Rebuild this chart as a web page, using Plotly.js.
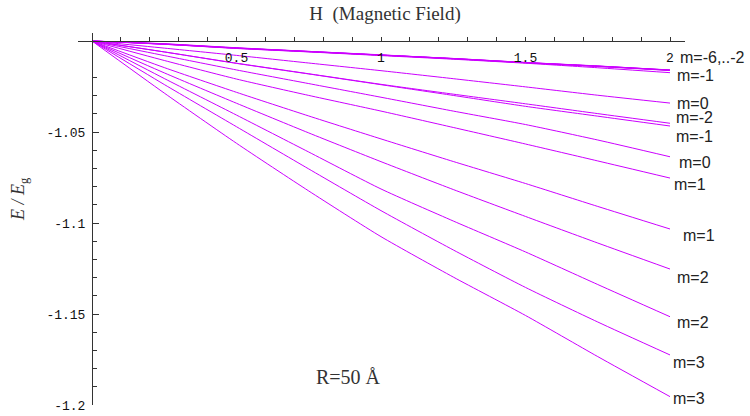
<!DOCTYPE html>
<html>
<head>
<meta charset="utf-8">
<script src="https://cdn.plot.ly/plotly-3.0.1.min.js"></script>
<style>html,body{margin:0;padding:0;background:#fff;}#chart{width:750px;height:416px;}</style>
</head>
<body>
<div id="chart"></div>
<script>
// Magnetic field values (x)
const H = [0, 0.25, 0.5, 0.75, 1, 1.25, 1.5, 1.75, 2];

// Energy levels E/Eg
const e_m6 = [-1, -1.0015, -1.0037, -1.0057, -1.0076, -1.0097, -1.0119, -1.0138, -1.0159];
const e_m5 = [-1, -1.0016, -1.0038, -1.0058, -1.0077, -1.0096, -1.0118, -1.0137, -1.0160];
const e_m4 = [-1, -1.0017, -1.0039, -1.0058, -1.0078, -1.0096, -1.0118, -1.0138, -1.0160];
const e_m3 = [-1, -1.0017, -1.0039, -1.0057, -1.0077, -1.0097, -1.0119, -1.0139, -1.0161];
const e_m2a = [-1, -1.0018, -1.0040, -1.0059, -1.0078, -1.0098, -1.0120, -1.0140, -1.0162];
const e_m1a = [-1, -1.0018, -1.0041, -1.0060, -1.0080, -1.0100, -1.0122, -1.0147, -1.0174];
const e_0a = [-1, -1.0039, -1.0079, -1.0121, -1.0163, -1.0207, -1.0252, -1.0298, -1.0341];
const e_m2b = [-1, -1.0060, -1.0122, -1.0180, -1.0238, -1.0292, -1.0345, -1.0399, -1.0452];
const e_m1b = [-1, -1.0060, -1.0123, -1.0181, -1.0240, -1.0299, -1.0359, -1.0413, -1.0467];
const e_0b = [-1, -1.0080, -1.0159, -1.0234, -1.0309, -1.0385, -1.0459, -1.0544, -1.0636];
const e_1a = [-1, -1.0107, -1.0209, -1.0299, -1.0385, -1.0475, -1.0566, -1.0659, -1.0753];
const e_1b = [-1, -1.0146, -1.0282, -1.0412, -1.0538, -1.0662, -1.0783, -1.0909, -1.1033];
const e_2a = [-1, -1.0175, -1.0342, -1.0505, -1.0663, -1.0816, -1.0964, -1.1110, -1.1253];
const e_2b = [-1, -1.0206, -1.0407, -1.0610, -1.0813, -1.0989, -1.1159, -1.1338, -1.1515];
const e_3a = [-1, -1.0239, -1.0471, -1.0703, -1.0932, -1.1148, -1.1354, -1.1544, -1.1725];
const e_3b = [-1, -1.0286, -1.0562, -1.0824, -1.1075, -1.1297, -1.1508, -1.1734, -1.1954];

// Tick labels
const xTickVals = [0.5, 1, 1.5, 2];
const xTickText = ["0.5", "1", "1.5", "2"];
const yTickVals = [-1.2, -1.15, -1.1, -1.05];
const yTickText = ["-1.2", "-1.15", "-1.1", "-1.05"];

// Level labels (right side)
const levelLabels = ["m=-6,..-2", "m=-1", "m=0", "m=-2", "m=-1", "m=0", "m=1", "m=1", "m=2", "m=2", "m=3", "m=3"];

const series = [e_m6, e_m5, e_m4, e_m3, e_m2a, e_m1a, e_0a, e_m2b, e_m1b, e_0b, e_1a, e_1b, e_2a, e_2b, e_3a, e_3b];
const lineColor = 'rgb(204,0,255)';
const traces = series.map(ys => ({
  x: H, y: ys, type: 'scatter', mode: 'lines',
  line: {color: lineColor, width: 1, shape: 'spline', smoothing: 0.6},
  hoverinfo: 'skip', showlegend: false
}));

// label placement (layout only)
const labelPos = [
  [2.031, -1.0093], [2.021, -1.0192], [2.021, -1.0341], [2.017, -1.0418],
  [2.017, -1.0527], [2.028, -1.0665], [2.010, -1.0791], [2.042, -1.1071],
  [2.021, -1.1297], [2.021, -1.1544], [2.007, -1.1764], [2.007, -1.1962]
];
const annotations = levelLabels.map((t, i) => ({
  x: labelPos[i][0], y: labelPos[i][1], xref: 'x', yref: 'y',
  text: t, showarrow: false, xanchor: 'left', yanchor: 'middle', borderpad: 0,
  font: {family: 'Liberation Sans, Arial, sans-serif', size: 16, color: '#222'}
}));
annotations.push({
  x: 0.889, y: -1.1845, xref: 'x', yref: 'y', text: 'R=50 Å', showarrow: false,
  xanchor: 'center', yanchor: 'middle',
  font: {family: 'Liberation Serif, Times New Roman, serif', size: 20, color: '#333'}
});
const L = 78, R = 65, T = 33, B = 11, W = 750, Ht = 416;
const pw = W - L - R, ph = Ht - T - B;
annotations.push({
  x: (19 - L) / pw, y: (Ht - B - 199) / ph, xref: 'paper', yref: 'paper', text: '<i>E / E</i><sub>g</sub>',
  showarrow: false, textangle: -90, xanchor: 'center', yanchor: 'middle',
  font: {family: 'Liberation Serif, Times New Roman, serif', size: 18, color: '#333'}
});

const axisColor = '#333';
const layout = {
  width: W, height: Ht,
  margin: {l: L, r: R, t: T, b: B, pad: 0},
  paper_bgcolor: '#fff', plot_bgcolor: '#fff',
  title: {
    text: 'H&nbsp;&nbsp;(Magnetic Field)', x: 385 / W, xref: 'container', xanchor: 'center',
    y: 1 - 13 / Ht, yref: 'container', yanchor: 'middle',
    font: {family: 'Liberation Serif, Times New Roman, serif', size: 19, color: '#333'}
  },
  xaxis: {
    range: [-0.04844, 2.0519], side: 'top', anchor: 'free', position: (405 - 41) / 372,
    showgrid: false, zeroline: false, showline: true, linecolor: axisColor, linewidth: 1,
    tickmode: 'array', tickvals: xTickVals, ticktext: xTickText,
    ticks: 'outside', ticklen: 4, tickcolor: axisColor, tickwidth: 1,
    ticklabelposition: 'inside', ticklabelstandoff: 11,
    tickfont: {family: 'Liberation Mono, Courier New, monospace', size: 13, color: '#111'},
    minor: {tickmode: 'linear', tick0: 0, dtick: 0.1, ticks: 'outside', ticklen: 4, tickcolor: axisColor, tickwidth: 1, showgrid: false}
  },
  yaxis: {
    range: [-1.2, -0.9956], anchor: 'free', position: (92 - 78) / 607,
    showgrid: false, zeroline: false, showline: true, linecolor: axisColor, linewidth: 1,
    tickmode: 'array', tickvals: yTickVals, ticktext: yTickText,
    ticks: 'inside', ticklen: 6, tickcolor: axisColor, tickwidth: 1,
    ticklabelstandoff: 4,
    tickfont: {family: 'Liberation Mono, Courier New, monospace', size: 13, color: '#111'},
    minor: {tickmode: 'linear', tick0: -1.2, dtick: 0.01, ticks: 'inside', ticklen: 4, tickcolor: axisColor, tickwidth: 1, showgrid: false}
  },
  annotations: annotations
};

Plotly.newPlot('chart', traces, layout, {displayModeBar: false, staticPlot: true});
</script>
</body>
</html>
